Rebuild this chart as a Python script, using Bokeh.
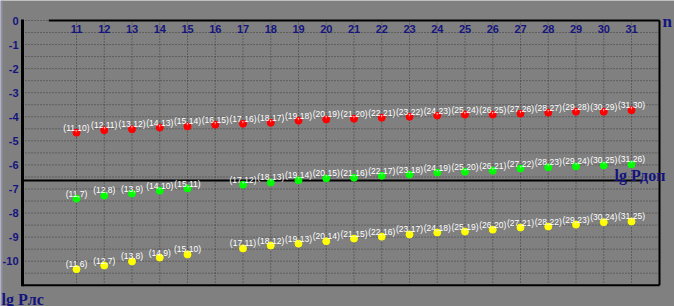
from bokeh.plotting import figure
from bokeh.models import Range1d, Label, ColumnDataSource
from bokeh.core.properties import value
from bokeh.embed import file_html
from bokeh.resources import INLINE

# ---- data ----
tick_n = [11, 12, 13, 14, 15, 16, 17, 18, 19, 20, 21, 22, 23, 24, 25, 26, 27, 28, 29, 30, 31]
y_ticks = [0, -1, -2, -3, -4, -5, -6, -7, -8, -9, -10]
y_grid = [0, -0.5, -1, -1.5, -2, -2.5, -3, -3.5, -4, -4.5, -5, -5.5, -6, -6.5, -7, -7.5,
          -8, -8.5, -9, -9.5, -10, -10.5]

red_n = [11, 12, 13, 14, 15, 16, 17, 18, 19, 20, 21, 22, 23, 24, 25, 26, 27, 28, 29, 30, 31]
red_k = [10, 11, 12, 13, 14, 15, 16, 17, 18, 19, 20, 21, 22, 23, 24, 25, 26, 27, 28, 29, 30]
red_lg = [-4.66, -4.56, -4.52, -4.45, -4.40, -4.33, -4.29, -4.25, -4.16, -4.11, -4.08,
          -4.04, -4.00, -3.95, -3.91, -3.91, -3.87, -3.83, -3.79, -3.79, -3.73]

green_n = [11, 12, 13, 14, 15, 17, 18, 19, 20, 21, 22, 23, 24, 25, 26, 27, 28, 29, 30, 31]
green_k = [7, 8, 9, 10, 11, 12, 13, 14, 15, 16, 17, 18, 19, 20, 21, 22, 23, 24, 25, 26]
green_lg = [-7.40, -7.27, -7.19, -7.07, -6.98, -6.82, -6.73, -6.64, -6.56, -6.53,
            -6.45, -6.40, -6.32, -6.28, -6.24, -6.15, -6.10, -6.06, -6.02, -5.98]

yellow_n = [11, 12, 13, 14, 15, 17, 18, 19, 20, 21, 22, 23, 24, 25, 26, 27, 28, 29, 30, 31]
yellow_k = [6, 7, 8, 9, 10, 11, 12, 13, 14, 15, 16, 17, 18, 19, 20, 21, 22, 23, 24, 25]
yellow_lg = [-10.33, -10.18, -10.01, -9.85, -9.72, -9.47, -9.35, -9.27, -9.17, -9.06,
             -8.98, -8.89, -8.81, -8.77, -8.69, -8.60, -8.56, -8.48, -8.38, -8.35]

lg_pdop = -6.65

# ---- layout / styling constants ----
BG = "#808080"
NAVY = "#14147f"
GRID = "#3c3c3c"
PX_X = 27.75          # pixels per unit of n
PX_Y = 24.07          # pixels per unit of lg P
XR0 = 11 - 76 / PX_X
XR1 = XR0 + 674 / PX_X
YR1 = 20 / PX_Y
YR0 = YR1 - 306 / PX_Y
PL, PR = XR0 + 22 / PX_X, XR0 + 659 / PX_X      # plot-area left/right in data
PT, PB = 0.0, -11.0                              # plot-area top/bottom in data

p = figure(width=674, height=306, output_backend="svg", toolbar_location=None,
           x_range=Range1d(XR0, XR1), y_range=Range1d(YR0, YR1),
           x_axis_location=None, y_axis_location=None,
           min_border_left=0, min_border_right=0, min_border_top=0, min_border_bottom=0)
p.background_fill_color = BG
p.border_fill_color = BG
p.outline_line_color = None
p.xgrid.visible = False
p.ygrid.visible = False

# left window edge
p.segment(x0=[XR0 + 1 / PX_X], y0=[YR1], x1=[XR0 + 1 / PX_X], y1=[YR0],
          line_color="#9090aa", line_width=2)

# dotted grid
p.segment(x0=[PL] * len(y_grid), y0=y_grid, x1=[PR] * len(y_grid), y1=y_grid,
          line_color=GRID, line_dash="1 2", line_width=1)
p.segment(x0=tick_n, y0=[PT] * len(tick_n), x1=tick_n, y1=[PB] * len(tick_n),
          line_color=GRID, line_dash="1 2", line_width=1)

# frame borders
p.segment(x0=[10.0], y0=[PT], x1=[PR], y1=[PT], line_color="black", line_width=2)
p.segment(x0=[PL], y0=[PB], x1=[PR], y1=[PB], line_color="black", line_width=2)
p.segment(x0=[PR], y0=[PT], x1=[PR], y1=[PB], line_color="black", line_width=2)
p.segment(x0=[PL], y0=[PT + 1 / PX_Y], x1=[PL], y1=[PB - 1 / PX_Y], line_color="black", line_width=3)

# lg Pdop line
p.segment(x0=[PL], y0=[lg_pdop], x1=[31.4], y1=[lg_pdop], line_color="black", line_width=2)

# y tick labels (left of axis)
p.text(x=[XR0 + 18 / PX_X] * len(y_ticks), y=y_ticks, text=[str(v) for v in y_ticks],
       text_font=value("Liberation Sans"), text_font_size="11px", text_font_style="bold",
       text_color=NAVY, text_align="right", text_baseline="middle")

# x tick labels inside frame
p.text(x=tick_n, y=[-0.37] * len(tick_n), text=[str(n) for n in tick_n],
       text_font=value("Liberation Sans"), text_font_size="11px", text_font_style="bold",
       text_color=NAVY, text_align="center", text_baseline="middle")


def series(ns, ks, lg, color):
    src = ColumnDataSource(dict(x=ns, y=lg, lab=["(%d,%d)" % (a, b) for a, b in zip(ns, ks)]))
    p.scatter(x="x", y="y", source=src, size=7, marker="circle",
              fill_color=color, line_color=color, line_width=1)
    p.text(x="x", y="y", text="lab", source=src, y_offset=-5,
           text_font=value("Liberation Sans"), text_font_size="8.5px",
           text_color="white", text_align="center", text_baseline="alphabetic")


series(red_n, red_k, red_lg, "#ff0000")
series(green_n, green_k, green_lg, "#00ff00")
series(yellow_n, yellow_k, yellow_lg, "#ffff00")

# axis titles
p.add_layout(Label(x=XR0 + 662 / PX_X, y=YR1 - 21 / PX_Y, text="n", text_font="Liberation Serif",
                   text_font_size="17px", text_font_style="bold", text_color=NAVY,
                   text_baseline="alphabetic"))
p.add_layout(Label(x=XR0 + 1 / PX_X, y=YR1 - 298.5 / PX_Y, text="lg Рлс", text_font="Liberation Serif",
                   text_font_size="16px", text_font_style="bold", text_color=NAVY,
                   text_baseline="alphabetic"))
p.add_layout(Label(x=XR0 + 614 / PX_X, y=YR1 - 174.5 / PX_Y, text="lg Рдоп", text_font="Liberation Serif",
                   text_font_size="16px", text_font_style="bold", text_color=NAVY,
                   text_baseline="alphabetic"))

open("out.html", "w").write(file_html(p, INLINE))
